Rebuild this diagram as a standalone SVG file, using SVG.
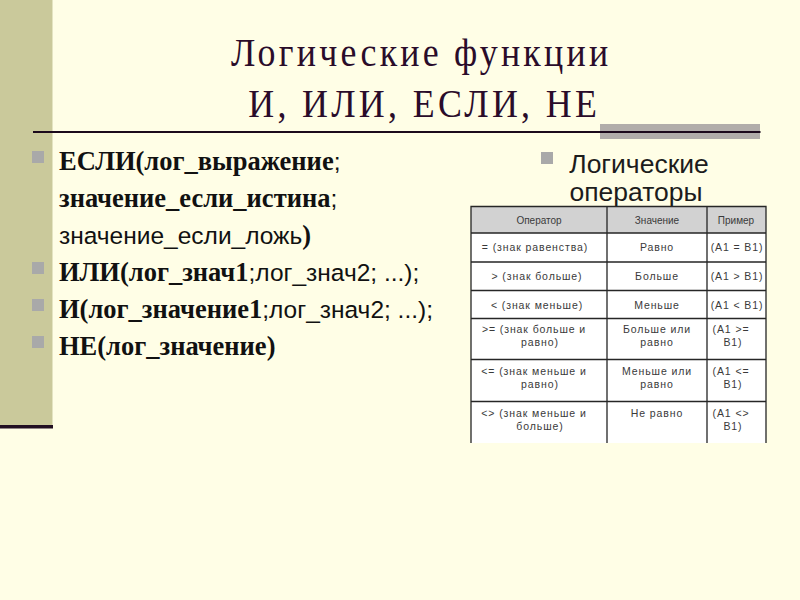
<svg xmlns="http://www.w3.org/2000/svg" width="800" height="600" viewBox="0 0 800 600">
<style>
.title{font-family:"Liberation Serif","Times New Roman",serif;font-size:39px;fill:#2a0c2a;text-anchor:middle}
.b{font-family:"Liberation Serif","Times New Roman",serif;font-weight:bold;font-size:26.5px;fill:#111}
.r{font-family:"Liberation Sans",Arial,sans-serif;font-weight:normal;font-size:24.5px;fill:#111}
.rt{font-family:"Liberation Sans",Arial,sans-serif;font-size:26.5px;fill:#1c1c1c;text-anchor:middle}
.bul{fill:#a9a9a9}
.t{font-family:"Liberation Sans",Arial,sans-serif;font-size:10.5px;fill:#3a3a3a;text-anchor:middle;letter-spacing:0.9px}
.h{font-family:"Liberation Sans",Arial,sans-serif;font-size:10px;fill:#3a3a3a;text-anchor:middle}
.grid{stroke:#262626;stroke-width:1.3;fill:none}
</style>
<rect width="800" height="600" fill="#fffee6"/>
<g id="sidebar">
<rect x="0" y="0" width="52.5" height="425" fill="#cac99b"/>
<rect x="0" y="425" width="53" height="3.5" fill="#220f22"/>
</g>
<g id="title">
<text class="title" transform="translate(419.5,66) scale(0.92,1)" x="0" y="0" textLength="410" lengthAdjust="spacing">Логические функции</text>
<text class="title" transform="translate(422.5,117) scale(0.92,1)" x="0" y="0" textLength="379" lengthAdjust="spacing">И, ИЛИ, ЕСЛИ, НЕ</text>
</g>
<g id="rule">
<rect x="600" y="124" width="160" height="15" fill="#b1adaa"/>
<line x1="33" y1="132" x2="760.5" y2="132" stroke="#1c0a1c" stroke-width="2.2"/>
</g>
<g id="left-list">
<rect class="bul" x="32" y="151" width="12" height="12"/>
<rect class="bul" x="32" y="262" width="12" height="12"/>
<rect class="bul" x="32" y="299" width="12" height="12"/>
<rect class="bul" x="32" y="336" width="12" height="12"/>
<text x="59" y="170"><tspan class="b">ЕСЛИ(лог_выражение</tspan><tspan class="r">;</tspan></text>
<text x="59" y="207"><tspan class="b">значение_если_истина</tspan><tspan class="r">;</tspan></text>
<text x="59" y="244"><tspan class="r">значение_если_ложь</tspan><tspan class="b">)</tspan></text>
<text x="59" y="281"><tspan class="b">ИЛИ(лог_знач1</tspan><tspan class="r">;лог_знач2; ...);</tspan></text>
<text x="59" y="318"><tspan class="b">И(лог_значение1</tspan><tspan class="r">;лог_знач2; ...);</tspan></text>
<text x="59" y="355"><tspan class="b">НЕ(лог_значение)</tspan></text>
</g>
<g id="right-heading">
<rect class="bul" x="541" y="152" width="12" height="12"/>
<text class="rt" x="639" y="173">Логические</text>
<text class="rt" x="636" y="201">операторы</text>
</g>
<g id="table">
<rect x="471" y="206.5" width="295" height="236.5" fill="#ffffff"/>
<rect x="471" y="206.5" width="295" height="26.5" fill="#d2d2d2"/>
<path class="grid" d="M471,443 V206.5 H766 V443 M607,206.5 V443 M707,206.5 V443 M471,233 H766 M471,262 H766 M471,290.5 H766 M471,318.5 H766 M471,359.5 H766 M471,401.5 H766"/>
<text class="h" x="539" y="224">Оператор</text>
<text class="h" x="657" y="224">Значение</text>
<text class="h" x="736" y="224">Пример</text>
<text class="t" x="535" y="251">= (знак равенства)</text>
<text class="t" x="657" y="251">Равно</text>
<text class="t" x="737" y="251">(A1 = B1)</text>
<text class="t" x="537" y="280">&gt; (знак больше)</text>
<text class="t" x="657" y="280">Больше</text>
<text class="t" x="737" y="280">(A1 &gt; B1)</text>
<text class="t" x="537" y="309">&lt; (знак меньше)</text>
<text class="t" x="657" y="309">Меньше</text>
<text class="t" x="737" y="309">(A1 &lt; B1)</text>
<text class="t" x="534" y="333">&gt;= (знак больше и</text>
<text class="t" x="540" y="346">равно)</text>
<text class="t" x="657" y="333">Больше или</text>
<text class="t" x="657" y="346">равно</text>
<text class="t" x="731" y="333">(A1 &gt;=</text>
<text class="t" x="733" y="346">B1)</text>
<text class="t" x="534" y="375">&lt;= (знак меньше и</text>
<text class="t" x="540" y="388">равно)</text>
<text class="t" x="657" y="375">Меньше или</text>
<text class="t" x="657" y="388">равно</text>
<text class="t" x="731" y="375">(A1 &lt;=</text>
<text class="t" x="733" y="388">B1)</text>
<text class="t" x="534" y="417">&lt;&gt; (знак меньше и</text>
<text class="t" x="540" y="430">больше)</text>
<text class="t" x="657" y="417">Не равно</text>
<text class="t" x="731" y="417">(A1 &lt;&gt;</text>
<text class="t" x="733" y="430">B1)</text>
</g>
</svg>
